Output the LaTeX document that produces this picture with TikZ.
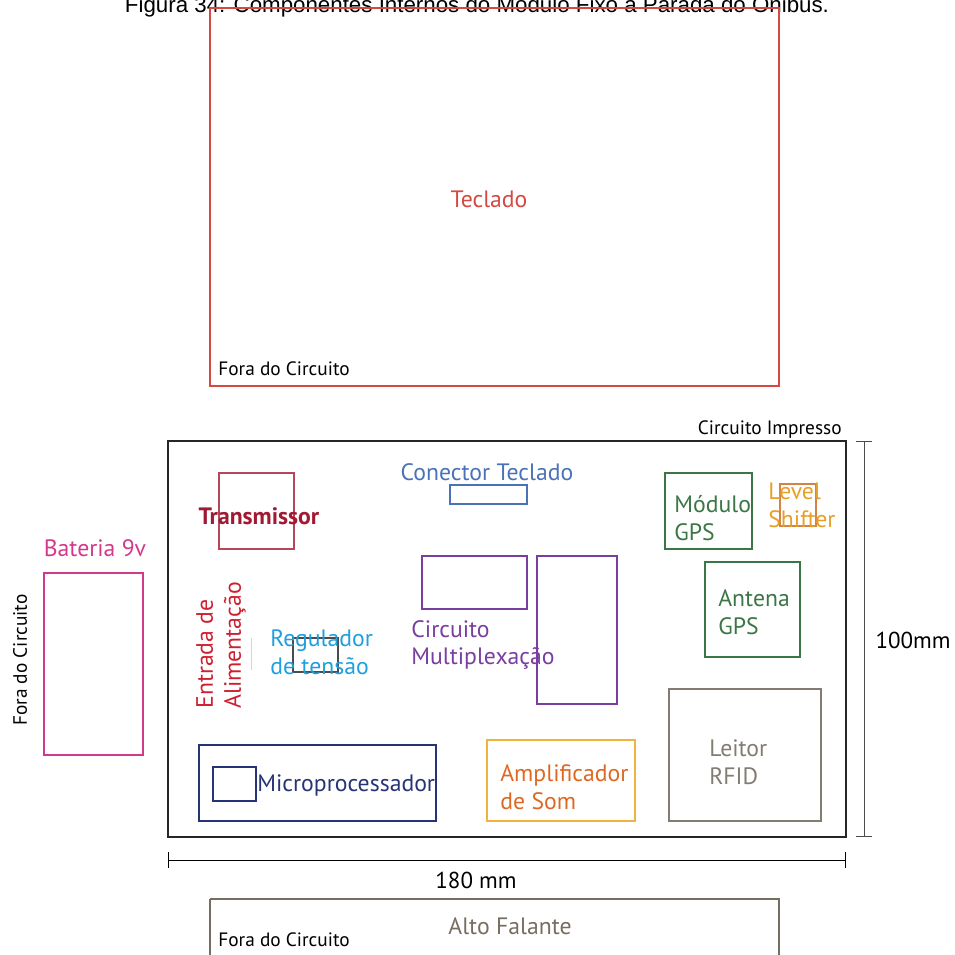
\documentclass[tikz,border=0pt]{standalone}
\usepackage{fontspec}
\setmainfont{PT Sans}
\newfontfamily\capfont{Liberation Sans}
\usetikzlibrary{arrows.meta,positioning}

\definecolor{keyred}{RGB}{214,72,66}
\definecolor{txred}{RGB}{160,26,52}
\definecolor{pwred}{RGB}{206,32,48}
\definecolor{regblue}{RGB}{30,160,222}
\definecolor{conblue}{RGB}{74,114,184}
\definecolor{muxpurple}{RGB}{122,62,160}
\definecolor{gpsgreen}{RGB}{58,118,70}
\definecolor{lvlorange}{RGB}{230,160,40}
\definecolor{lvlbox}{RGB}{214,130,70}
\definecolor{rfidgray}{RGB}{130,124,114}
\definecolor{spkgray}{RGB}{118,110,96}
\definecolor{cpunavy}{RGB}{38,52,118}
\definecolor{ampbox}{RGB}{240,178,64}
\definecolor{amptext}{RGB}{222,104,34}
\definecolor{batpink}{RGB}{212,56,138}

\tikzset{
  part/.style={draw, line width=0.8pt},
  lbl/.style={inner sep=0pt, font=\fontsize{13.5}{15.9}\selectfont},
  small/.style={inner sep=0pt, font=\fontsize{11}{13}\selectfont},
  dim/.style={inner sep=0pt, font=\fontsize{13.1}{15}\selectfont},
}

\begin{document}
\begin{tikzpicture}[x=0.02cm, y=-0.02cm]
  \useasboundingbox (0,0) rectangle (955,954);
  % ---- caption, cut at the top ----
  \node[inner sep=0pt, anchor=base, font=\capfont\fontsize{12.7}{15}\selectfont] (caption) at (477,12)
    {Figura 34: Componentes Internos do Módulo Fixo à Parada do Ônibus.};
  % ---- keyboard, outside the board ----
  \draw[part, keyred] (210,8) rectangle (779,386);
  \node[lbl, keyred] (teclado) at (489,199) {Teclado};
  \node[small, anchor=base west] (foraA) at (218,375) {Fora do Circuito};
  % ---- printed circuit board ----
  \draw[line width=0.9pt, black!85] (168,441) rectangle (846,837);
  \node[small, anchor=base east] (pcb) at (842,434) {Circuito Impresso};
  % dimensions
  \coordinate (vdimT) at (864,441);
  \coordinate (vdimB) at (864,837);
  \draw[black!70, {Bar[width=16*0.02cm]}-{Bar[width=16*0.02cm]}] (vdimT) -- (vdimB);
  \node[dim] (alt) at (913,640) {100mm};
  \coordinate (hdimL) at (168,860);
  \coordinate (hdimR) at (846,860);
  \draw[black, {Bar[width=16*0.02cm]}-{Bar[width=16*0.02cm]}] (hdimL) -- (hdimR);
  \node[dim] (larg) at (476,880) {180 mm};
  % ---- speaker, outside the board ----
  \draw[part, spkgray] (210,899) -- (779,899) -- (779,960);
  \draw[part, spkgray] (210,960) -- (210,899);
  \node[lbl, spkgray] (falante) at (510,926) {Alto Falante};
  \node[small, anchor=base west] (foraB) at (218,946) {Fora do Circuito};
  % ---- battery, outside the board ----
  \draw[part, batpink] (44,573) rectangle (143,755);
  \node[lbl, batpink] (bateria) at (95,548) {Bateria 9v};
  \node[small, rotate=90] (foraC) at (20,660) {Fora do Circuito};
  % ---- parts on the board ----
  \draw[part, txred!80] (219,473) rectangle (294,549);
  \node[lbl, txred, font=\bfseries\fontsize{13.5}{15.9}\selectfont] (transm) at (259,516) {Transmissor};
  \node[lbl, pwred, rotate=90, align=left, anchor=west] (entrada) at (221,709) {Entrada de\\Alimentação};
  \draw[pwred!25, line width=0.5pt] (251,638) -- (251,670);
  \draw[part, black!70] (293,638) rectangle (338,672);
  \node[lbl, regblue, align=left, anchor=west] (regul) at (270,652) {Regulador\\de tensão};
  \node[lbl, conblue] (conector) at (487,472) {Conector Teclado};
  \draw[part, conblue] (450,485) rectangle (527,504);
  \draw[part, muxpurple] (422,556) rectangle (527,609);
  \draw[part, muxpurple] (537,556) rectangle (617,704);
  \node[lbl, muxpurple, align=left, anchor=west] (mux) at (411,645) {Circuito\\Multiplexação};
  \draw[part, gpsgreen] (665,473) rectangle (752,549);
  \node[lbl, gpsgreen, align=left, anchor=west] (gps) at (674,518) {Módulo\\GPS};
  \draw[part, lvlbox, line width=0.6pt] (780,484) rectangle (816,526);
  \node[lbl, lvlorange, align=left, anchor=west] (level) at (768,505) {Level\\Shifter};
  \draw[part, gpsgreen] (705,562) rectangle (800,657);
  \node[lbl, gpsgreen, align=left, anchor=west] (antena) at (718,612) {Antena\\GPS};
  \draw[part, rfidgray] (669,689) rectangle (821,821);
  \node[lbl, rfidgray, align=left, anchor=west] (rfid) at (709,762) {Leitor\\RFID};
  \draw[part, cpunavy] (199,745) rectangle (436,821);
  \draw[part, cpunavy] (213,767) rectangle (256,801);
  \node[lbl, cpunavy, anchor=west] (micro) at (257,785) {Microprocessador};
  \draw[part, ampbox] (487,740) rectangle (635,821);
  \node[lbl, amptext, align=left, anchor=west] (ampl) at (500,787) {Amplificador\\de Som};
\end{tikzpicture}
\end{document}
